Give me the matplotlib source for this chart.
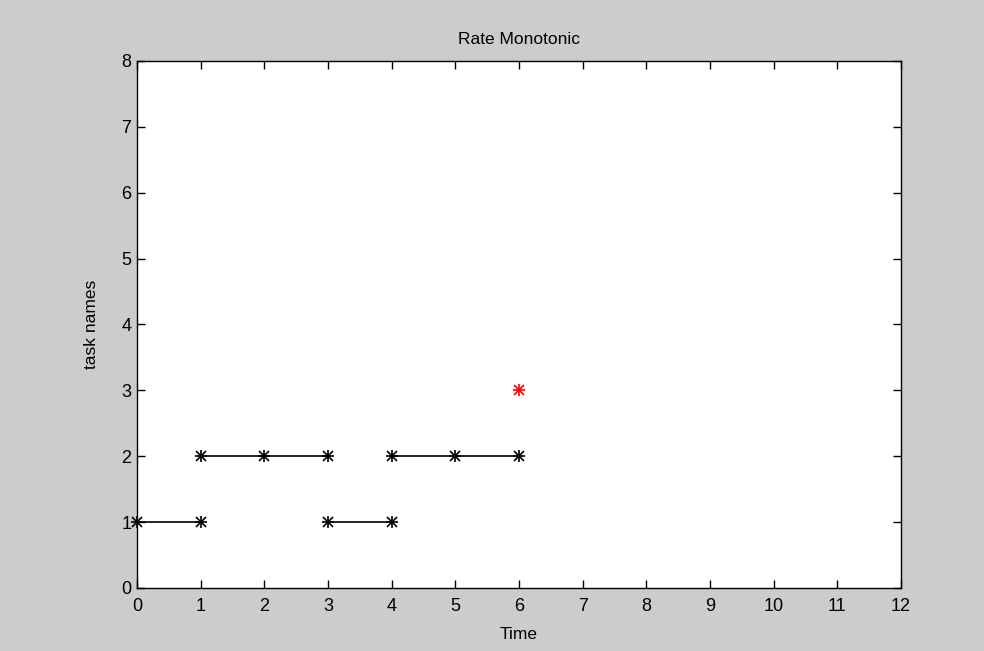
import matplotlib
matplotlib.use("Agg")
import matplotlib.pyplot as plt

plt.rcParams['font.family'] = ['Liberation Sans', 'DejaVu Sans']

# executed intervals per task: (task, [times])
task1_runs = [[0, 1], [3, 4]]
task2_runs = [[1, 2, 3], [4, 5, 6]]
missed_time = [6]
missed_task = [3]

x_ticks = list(range(0, 13))
y_ticks = list(range(0, 9))


def asterisk(ax, xs, ys, color):
    # MATLAB-style '*' marker: plus and cross overlaid
    ax.plot(xs, ys, linestyle='none', marker='+', color=color, markersize=9,
            markeredgewidth=1.2, clip_on=False, zorder=3)
    ax.plot(xs, ys, linestyle='none', marker='x', color=color, markersize=7,
            markeredgewidth=1.2, clip_on=False, zorder=3)


fig = plt.figure(figsize=(9.84, 6.51), dpi=100, facecolor='#cccccc')
ax = fig.add_axes([0.1392, 0.0968, 0.7764, 0.8095])
ax.set_facecolor('white')

for task, runs in [(1, task1_runs), (2, task2_runs)]:
    for run in runs:
        ys = [task] * len(run)
        ax.plot(run, ys, color='black', linewidth=1.2)
        asterisk(ax, run, ys, 'black')

asterisk(ax, missed_time, missed_task, 'red')

ax.set_xlim(0, 12)
ax.set_ylim(0, 8)
ax.set_xticks(x_ticks)
ax.set_yticks(y_ticks)
ax.tick_params(direction='in', top=True, right=True, length=6, width=1, labelsize=13, pad=4)
ax.tick_params(axis='x', pad=7)
for s in ax.spines.values():
    s.set_linewidth(1)

ax.set_title('Rate Monotonic', fontsize=12.5, pad=12)
ax.set_xlabel('Time', fontsize=12.5, labelpad=9)
ax.set_ylabel('task names', fontsize=12.5, labelpad=16)

fig.savefig('out.png', dpi=100, facecolor=fig.get_facecolor())
